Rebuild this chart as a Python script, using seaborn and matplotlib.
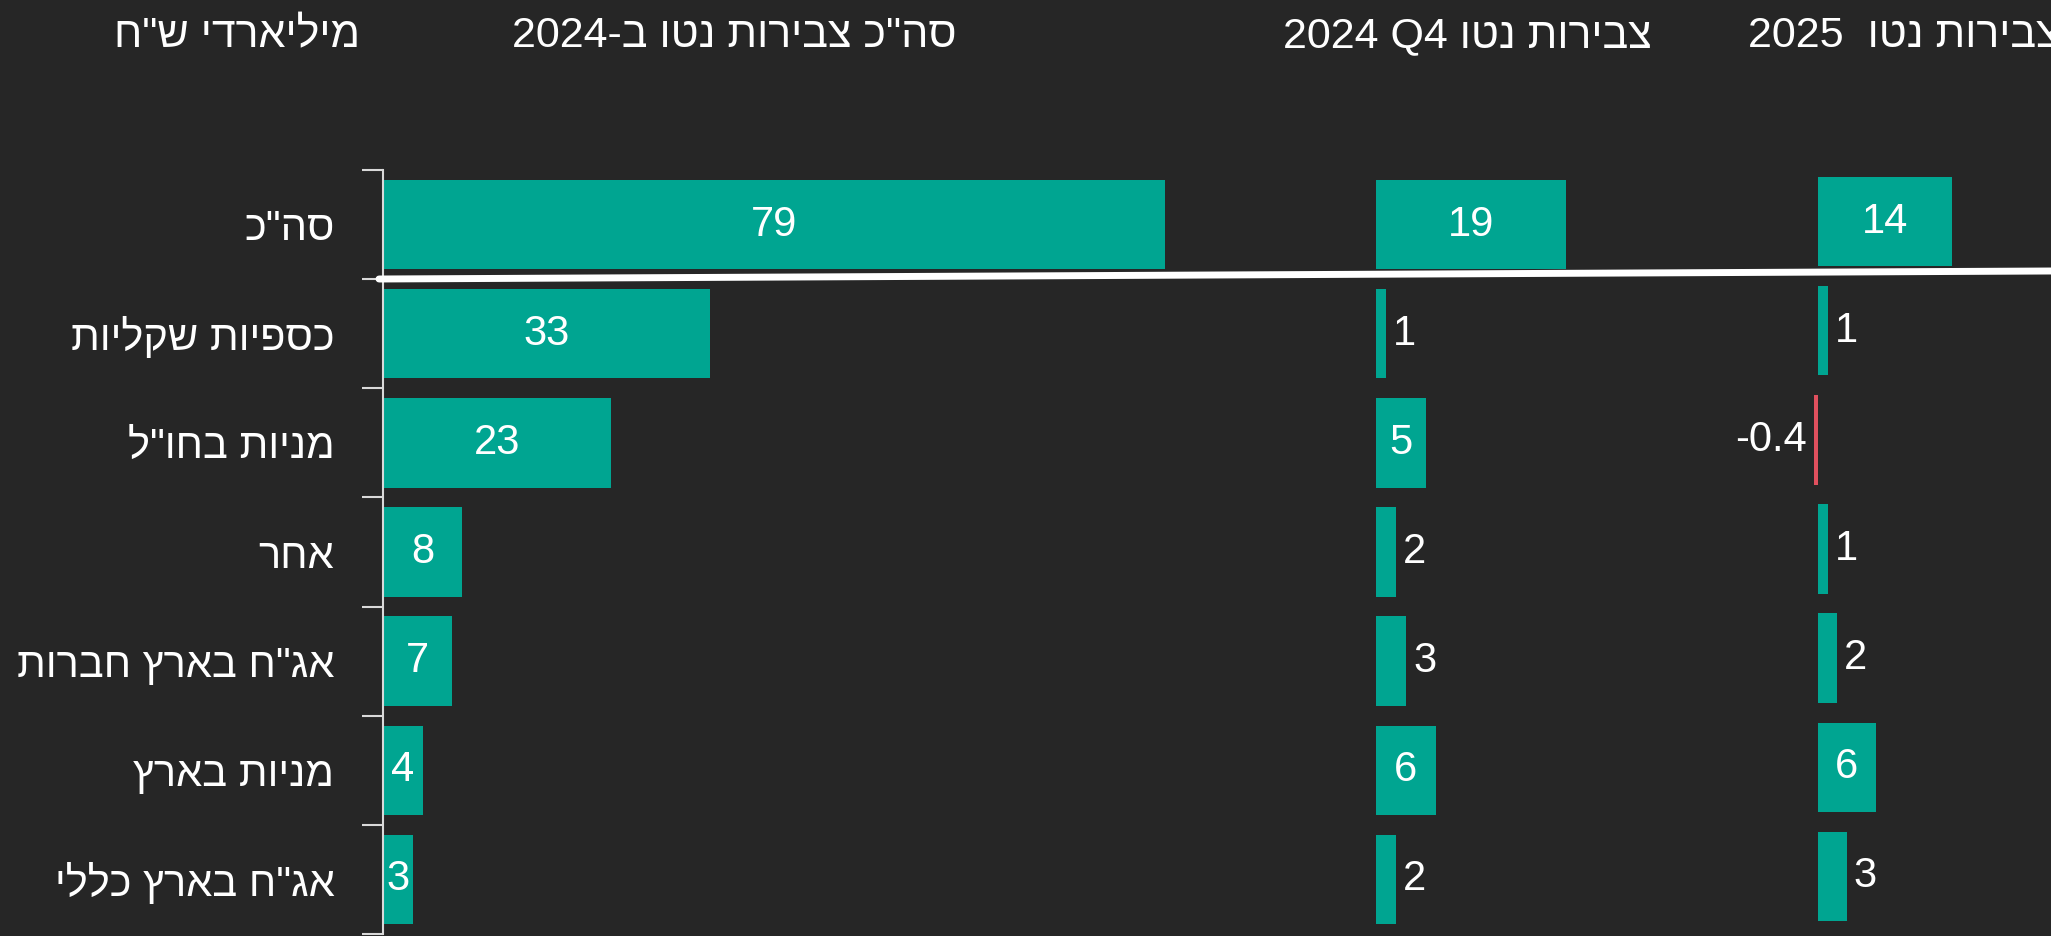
import re
import matplotlib
matplotlib.use('Agg')
import matplotlib.pyplot as plt
from matplotlib.lines import Line2D
import seaborn as sns
import pandas as pd

categories = ['סה"כ', 'כספיות שקליות', 'מניות בחו"ל', 'אחר',
              'אג"ח בארץ חברות', 'מניות בארץ', 'אג"ח בארץ כללי']
total_2024 = [79, 33, 23, 8, 7, 4, 3]
q4_2024 = [19, 1, 5, 2, 3, 6, 2]
ytd_2025 = [14, 1, -0.4, 1, 2, 6, 3]
titles = ['סה"כ צבירות נטו ב-2024', 'צבירות נטו Q4 2024', 'צבירות נטו  2025']
unit_label = 'מיליארדי ש"ח'

BG = '#262626'
TEAL = '#00A591'
RED = '#E0505E'

sns.set_theme(style='dark', rc={'axes.facecolor': BG, 'figure.facecolor': BG})
plt.rcParams['font.family'] = ['Liberation Sans', 'DejaVu Sans']


def rtl(s):
    # matplotlib has no bidi: flip the string, keep numbers / latin in order
    return re.sub(r'[0-9A-Za-z.]+', lambda m: m.group(0)[::-1], s[::-1])


W, H = 2051, 936
fig = plt.figure(figsize=(W / 100, H / 100), dpi=100)

labels = [rtl(c) for c in categories]
n = len(categories)
series = [total_2024, q4_2024, ytd_2025]
zero_px = [383, 1376, 1818]
px_unit = [9.9, 10.0, 9.6]
left_px = [383, 1376, 1700]
right_px = [1290, 1700, 2051]
shift_px = [0, 0, 3]
inside_min = [3, 5, 5]

for i, vals in enumerate(series):
    bottom = 2 + shift_px[i]
    ax = fig.add_axes([left_px[i] / W, bottom / H,
                       (right_px[i] - left_px[i]) / W, 764 / H])
    df = pd.DataFrame({'cat': labels, 'val': vals})
    colors = [TEAL if v >= 0 else RED for v in vals]
    sns.barplot(data=df, x='val', y='cat', hue='cat', palette=colors,
                legend=False, width=0.82, orient='h', saturation=1,
                linewidth=0, ax=ax)
    for cont, v in zip(ax.containers, vals):
        txt = f'{v:g}'
        if abs(v) >= inside_min[i]:
            ax.bar_label(cont, labels=[txt], label_type='center',
                         color='white', fontsize=30)
        else:
            ax.bar_label(cont, labels=[txt], label_type='edge', padding=5,
                         color='white', fontsize=30)
    lo = (left_px[i] - zero_px[i]) / px_unit[i]
    hi = (right_px[i] - zero_px[i]) / px_unit[i]
    ax.set_xlim(lo, hi)
    ax.set_ylim(n - 0.5, -0.5)
    ax.set_xlabel('')
    ax.set_ylabel('')
    ax.set_xticks([])
    ax.set_facecolor(BG)
    for sp in ax.spines.values():
        sp.set_visible(False)
    if i == 0:
        ax.spines['left'].set_visible(True)
        ax.spines['left'].set_color('#d9d9d9')
        ax.spines['left'].set_linewidth(1.5)
        ax.set_yticks([k - 0.5 for k in range(n + 1)])
        ax.set_yticklabels([])
        ax.set_yticks(range(n), minor=True)
        ax.set_yticklabels(labels, minor=True)
        ax.tick_params(axis='y', which='major', left=True, length=15,
                       width=1.5, color='#d9d9d9')
        ax.tick_params(axis='y', which='minor', left=True, length=0, pad=35,
                       labelsize=30, labelcolor='white')
    else:
        ax.set_yticks([])

# headers
fig.text(360 / W, 1 - 36 / H, rtl(unit_label), ha='right', va='center',
         color='white', fontsize=31)
title_right = [957, 1652, 2060]
for t, x in zip(titles, title_right):
    fig.text(x / W, 1 - 36 / H, rtl(t), ha='right', va='center',
             color='white', fontsize=31)

# separator under the total row
fig.add_artist(Line2D([379 / W, 1], [1 - 279 / H, 1 - 271 / H],
                      color='white', lw=5, solid_capstyle='round'))

fig.savefig('out.png', dpi=100, facecolor=BG)
